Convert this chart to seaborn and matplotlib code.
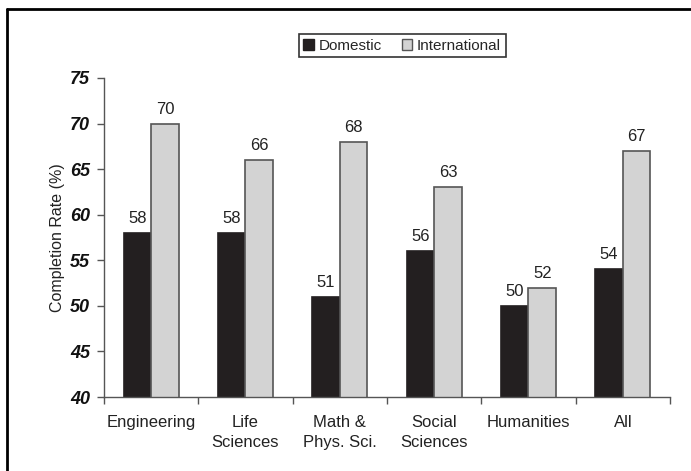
import matplotlib
matplotlib.use("Agg")
import matplotlib.pyplot as plt
import seaborn as sns
import pandas as pd
from matplotlib.lines import Line2D

categories = ["Engineering", "Life\nSciences", "Math &\nPhys. Sci.", "Social\nSciences", "Humanities", "All"]
domestic = [58, 58, 51, 56, 50, 54]
international = [70, 66, 68, 63, 52, 67]
series_names = ["Domestic", "International"]
y_ticks = [40, 45, 50, 55, 60, 65, 70, 75]

sns.set_theme(style="white")
plt.rcParams["font.family"] = ["Liberation Sans", "DejaVu Sans"]

df = pd.DataFrame({
    "Field": categories * 2,
    "Rate": domestic + international,
    "Group": [series_names[0]] * len(categories) + [series_names[1]] * len(categories),
})

fig = plt.figure(figsize=(6.91, 4.71), dpi=100)
ax = fig.add_axes([0.1505, 0.1571, 0.8191, 0.6773])

colors = {"Domestic": "#231f20", "International": "#d3d3d3"}
sns.barplot(data=df, x="Field", y="Rate", hue="Group", palette=colors,
            width=0.585, gap=0, ax=ax, legend=False, saturation=1)

for cont, edge in zip(ax.containers, ["#231f20", "#555555"]):
    for bar in cont:
        bar.set_edgecolor(edge)
        bar.set_linewidth(1.2)
    ax.bar_label(cont, fmt="%d", padding=5, fontsize=12, color="#222222")

ax.set_ylim(40, 75)
ax.set_yticks(y_ticks)
ax.set_yticklabels([str(t) for t in y_ticks], fontsize=13, fontweight="bold",
                   fontstyle="italic", color="#111111")
ax.set_xlim(-0.5, len(categories) - 0.5)
ax.set_xticks(range(len(categories)))
ax.set_xticklabels(categories, fontsize=12, color="#222222", linespacing=1.45)
ax.set_xticks([i - 0.5 for i in range(len(categories) + 1)], minor=True)
ax.tick_params(axis="x", which="major", length=0, pad=13)
ax.tick_params(axis="x", which="minor", length=5, width=1, color="#555555", direction="out", bottom=True)
ax.tick_params(axis="y", length=5, width=1, color="#555555", direction="out", left=True, pad=5)

ax.set_xlabel("")
ax.set_ylabel("Completion Rate (%)", fontsize=11.5, color="#222222", labelpad=4)

for side in ["top", "right"]:
    ax.spines[side].set_visible(False)
for side in ["left", "bottom"]:
    ax.spines[side].set_color("#555555")
    ax.spines[side].set_linewidth(1)

handles = [plt.Rectangle((0, 0), 1, 1, facecolor=colors[n],
                         edgecolor="#231f20" if n == "Domestic" else "#555555", linewidth=1)
           for n in series_names]
leg = fig.legend(handles, series_names, loc="center", bbox_to_anchor=(0.582, 0.903),
                 ncol=2, frameon=True, fancybox=False, edgecolor="black",
                 fontsize=11, handlelength=0.7, handleheight=0.7, handletextpad=0.3,
                 columnspacing=1.3, borderpad=0.3)
leg.get_frame().set_linewidth(1.2)

# outer frame along the top and left edges
fig.add_artist(Line2D([7 / 691, 7 / 691], [0, 1 - 9 / 471], transform=fig.transFigure,
                      color="black", linewidth=2))
fig.add_artist(Line2D([7 / 691, 1], [1 - 9 / 471, 1 - 9 / 471], transform=fig.transFigure,
                      color="black", linewidth=2))

fig.savefig("out.png", dpi=100)
